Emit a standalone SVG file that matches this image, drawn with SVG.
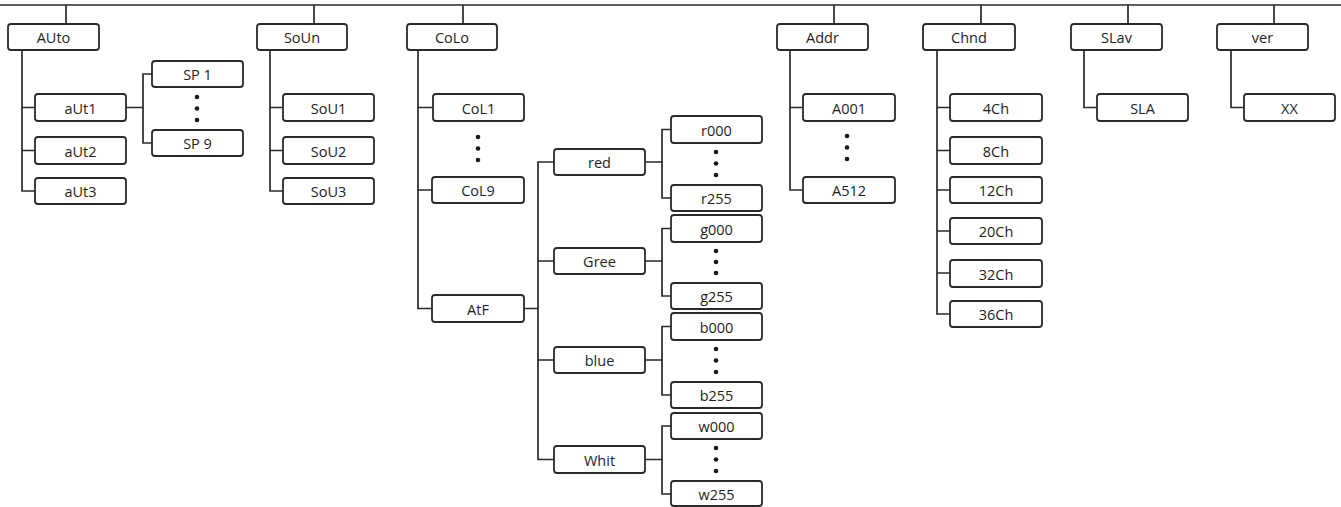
<svg xmlns="http://www.w3.org/2000/svg" width="1341" height="507" viewBox="0 0 1341 507">
<style>
rect.b{fill:#fff;stroke:#2a2a2a;stroke-width:1.8}
text{font-family:"Open Sans","Noto Sans","Liberation Sans",sans-serif;font-size:14.5px;fill:#1e1e1e;text-anchor:middle;dominant-baseline:central;font-weight:500}
.c path,.c line{fill:none;stroke:#2a2a2a;stroke-width:1.7}
circle{fill:#1a1a1a}
</style>
<rect width="1341" height="507" fill="#fff"/>
<g class="c" id="connectors">
<line x1="0" y1="5" x2="1341" y2="5" stroke-width="2.4"/>
<path d="M66 5V24M314 5V24M463 5V24M834 5V24M981 5V24M1128 5V24M1274 5V24"/>
<path d="M22 50V191H35M22 107.5H35M22 150.5H35"/>
<path d="M126 107.5H143M152 74H143V143H152"/>
<path d="M270 50V191H283M270 107.5H283M270 150.5H283"/>
<path d="M418 50V308.5H432M418 107.5H433M418 190H432"/>
<path d="M524 308.5H538M554 162H538V459.5H554M538 261H554M538 360H554"/>
<path d="M645 162H662M671 129.5H662V198H671"/>
<path d="M645 261H662M671 228.5H662V296H671"/>
<path d="M645 360H662M671 326.5H662V395H671"/>
<path d="M645 459.5H662M671 426H662V494H671"/>
<path d="M790 50V190H803M790 107.5H803"/>
<path d="M937 50V314H950M937 107.5H950M937 150.5H950M937 190H950M937 231H950M937 273H950"/>
<path d="M1084 50V107.5H1097"/>
<path d="M1231 50V107.5H1244"/>
</g>
<g id="dots">
<circle cx="197" cy="97" r="2.3"/><circle cx="197" cy="108.5" r="2.3"/><circle cx="197" cy="120" r="2.3"/>
<circle cx="478" cy="137" r="2.3"/><circle cx="478" cy="148.5" r="2.3"/><circle cx="478" cy="160" r="2.3"/>
<circle cx="716" cy="152" r="2.3"/><circle cx="716" cy="163.5" r="2.3"/><circle cx="716" cy="175" r="2.3"/>
<circle cx="716" cy="251" r="2.3"/><circle cx="716" cy="262" r="2.3"/><circle cx="716" cy="273" r="2.3"/>
<circle cx="716" cy="349" r="2.3"/><circle cx="716" cy="360.5" r="2.3"/><circle cx="716" cy="372" r="2.3"/>
<circle cx="716" cy="448" r="2.3"/><circle cx="716" cy="459.5" r="2.3"/><circle cx="716" cy="471" r="2.3"/>
<circle cx="847" cy="136" r="2.3"/><circle cx="847" cy="147.5" r="2.3"/><circle cx="847" cy="159" r="2.3"/>
</g>
<g id="n-auto"><rect class="b" x="8" y="24" width="91" height="26" rx="3"/><text x="53.5" y="37.5">AUto</text></g>
<g id="n-aut1"><rect class="b" x="35" y="94" width="91" height="27" rx="3"/><text x="80.5" y="108">aUt1</text></g>
<g id="n-aut2"><rect class="b" x="35" y="137" width="91" height="27" rx="3"/><text x="80.5" y="151">aUt2</text></g>
<g id="n-aut3"><rect class="b" x="35" y="178" width="91" height="26" rx="3"/><text x="80.5" y="191.5">aUt3</text></g>
<g id="n-sp1"><rect class="b" x="152" y="61" width="91" height="26" rx="3"/><text x="197.5" y="74.5">SP 1</text></g>
<g id="n-sp9"><rect class="b" x="152" y="130" width="91" height="26" rx="3"/><text x="197.5" y="143.5">SP 9</text></g>
<g id="n-soun"><rect class="b" x="257" y="24" width="90" height="26" rx="3"/><text x="302" y="37.5">SoUn</text></g>
<g id="n-sou1"><rect class="b" x="283" y="94" width="91" height="27" rx="3"/><text x="328.5" y="108">SoU1</text></g>
<g id="n-sou2"><rect class="b" x="283" y="137" width="91" height="27" rx="3"/><text x="328.5" y="151">SoU2</text></g>
<g id="n-sou3"><rect class="b" x="283" y="178" width="91" height="26" rx="3"/><text x="328.5" y="191.5">SoU3</text></g>
<g id="n-colo"><rect class="b" x="407" y="24" width="90" height="26" rx="3"/><text x="452" y="37.5">CoLo</text></g>
<g id="n-col1"><rect class="b" x="433" y="94" width="91" height="27" rx="3"/><text x="478.5" y="108">CoL1</text></g>
<g id="n-col9"><rect class="b" x="432" y="177" width="92" height="26" rx="3"/><text x="478" y="190.5">CoL9</text></g>
<g id="n-atf"><rect class="b" x="432" y="295" width="92" height="27" rx="3"/><text x="478" y="309">AtF</text></g>
<g id="n-red"><rect class="b" x="554" y="149" width="91" height="26" rx="3"/><text x="599.5" y="162.5">red</text></g>
<g id="n-gree"><rect class="b" x="554" y="248" width="91" height="26" rx="3"/><text x="599.5" y="261.5">Gree</text></g>
<g id="n-blue"><rect class="b" x="554" y="347" width="91" height="26" rx="3"/><text x="599.5" y="360.5">blue</text></g>
<g id="n-whit"><rect class="b" x="554" y="446" width="91" height="27" rx="3"/><text x="599.5" y="460">Whit</text></g>
<g id="n-r000"><rect class="b" x="671" y="116" width="91" height="27" rx="3"/><text x="716.5" y="130">r000</text></g>
<g id="n-r255"><rect class="b" x="671" y="185" width="91" height="26" rx="3"/><text x="716.5" y="198.5">r255</text></g>
<g id="n-g000"><rect class="b" x="671" y="215" width="91" height="27" rx="3"/><text x="716.5" y="229">g000</text></g>
<g id="n-g255"><rect class="b" x="671" y="283" width="91" height="26" rx="3"/><text x="716.5" y="296.5">g255</text></g>
<g id="n-b000"><rect class="b" x="671" y="313" width="91" height="27" rx="3"/><text x="716.5" y="327">b000</text></g>
<g id="n-b255"><rect class="b" x="671" y="382" width="91" height="26" rx="3"/><text x="716.5" y="395.5">b255</text></g>
<g id="n-w000"><rect class="b" x="671" y="413" width="91" height="26" rx="3"/><text x="716.5" y="426.5">w000</text></g>
<g id="n-w255"><rect class="b" x="671" y="481" width="91" height="25" rx="3"/><text x="716.5" y="494.5">w255</text></g>
<g id="n-addr"><rect class="b" x="777" y="24" width="91" height="26" rx="3"/><text x="822.5" y="37.5">Addr</text></g>
<g id="n-a001"><rect class="b" x="803" y="94" width="92" height="27" rx="3"/><text x="849" y="108">A001</text></g>
<g id="n-a512"><rect class="b" x="803" y="177" width="92" height="26" rx="3"/><text x="849" y="190.5">A512</text></g>
<g id="n-chnd"><rect class="b" x="923" y="24" width="92" height="26" rx="3"/><text x="969" y="37.5">Chnd</text></g>
<g id="n-4ch"><rect class="b" x="950" y="94" width="92" height="27" rx="3"/><text x="996" y="108">4Ch</text></g>
<g id="n-8ch"><rect class="b" x="950" y="137" width="92" height="27" rx="3"/><text x="996" y="151">8Ch</text></g>
<g id="n-12ch"><rect class="b" x="950" y="177" width="92" height="26" rx="3"/><text x="996" y="190.5">12Ch</text></g>
<g id="n-20ch"><rect class="b" x="950" y="218" width="92" height="26" rx="3"/><text x="996" y="231.5">20Ch</text></g>
<g id="n-32ch"><rect class="b" x="950" y="260" width="92" height="27" rx="3"/><text x="996" y="274">32Ch</text></g>
<g id="n-36ch"><rect class="b" x="950" y="301" width="92" height="26" rx="3"/><text x="996" y="314.5">36Ch</text></g>
<g id="n-slav"><rect class="b" x="1071" y="24" width="91" height="26" rx="3"/><text x="1116.5" y="37.5">SLav</text></g>
<g id="n-sla"><rect class="b" x="1097" y="94" width="91" height="27" rx="3"/><text x="1142.5" y="108">SLA</text></g>
<g id="n-ver"><rect class="b" x="1217" y="24" width="91" height="26" rx="3"/><text x="1262.5" y="37.5">ver</text></g>
<g id="n-xx"><rect class="b" x="1244" y="94" width="91" height="27" rx="3"/><text x="1289.5" y="108">XX</text></g>
</svg>
